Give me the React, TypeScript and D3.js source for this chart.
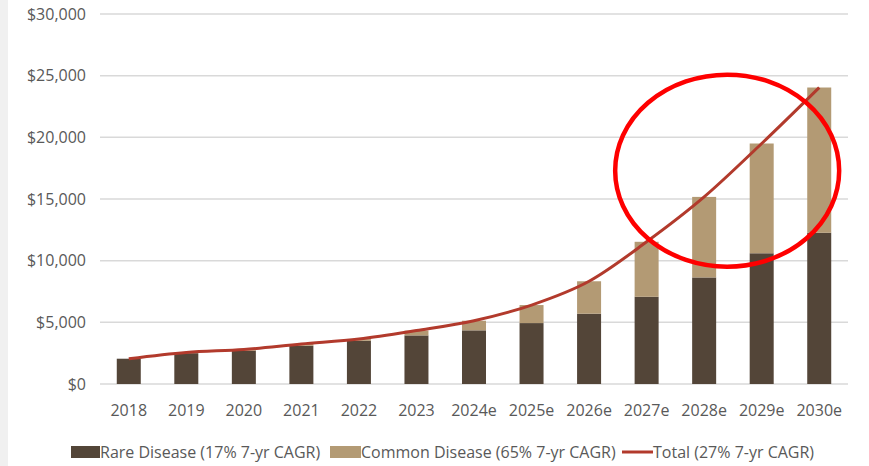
import React from "react";
import * as d3 from "d3";

const categories = ["2018", "2019", "2020", "2021", "2022", "2023", "2024e", "2025e", "2026e", "2027e", "2028e", "2029e", "2030e"];
const rareDisease = [2050, 2500, 2700, 3100, 3500, 3940, 4350, 4940, 5700, 7070, 8640, 10600, 12260];
const commonDisease = [0, 60, 100, 140, 140, 390, 780, 1460, 2630, 4460, 6530, 8900, 11780];
const yTicks = [0, 5000, 10000, 15000, 20000, 25000, 30000];
const legendLabels = ["Rare Disease (17% 7-yr CAGR)", "Common Disease (65% 7-yr CAGR)", "Total (27% 7-yr CAGR)"];
// annotation ellipse: centred between 2028e and 2029e, around $17,300
const highlight = { from: "2028e", to: "2029e", frac: 0.4, value: 17300 };

const W = 869;
const H = 466;
const FONT = "'Open Sans', sans-serif";
const TEXT = "#595959";
const RARE = "#534538";
const COMMON = "#b39a74";
const LINE = "#b23a2c";

export default function App() {
  const left = 100, right = 848, top = 14, bottom = 384;
  const x = d3.scaleBand<string>().domain(categories).range([left, right]).padding(0);
  const y = d3.scaleLinear().domain([0, 30000]).range([bottom, top]);
  const bw = 24;
  const cx = (c: string) => (x(c) as number) + x.bandwidth() / 2;
  const totals = rareDisease.map((r, i) => r + commonDisease[i]);
  const line = d3
    .line<number>()
    .x((_, i) => cx(categories[i]))
    .y((d) => y(d))
    .curve(d3.curveMonotoneX);
  const fmt = (v: number) => "$" + d3.format(",")(v);

  const ex = cx(highlight.from) + (cx(highlight.to) - cx(highlight.from)) * highlight.frac;
  const ey = y(highlight.value);

  const legY = 452;
  return (
    <svg width={W} height={H} style={{ position: "absolute", left: 0, top: 0, background: "#fff" }}>
      <rect x={0} y={0} width={8} height={H} fill="#f0f0f0" />
      {yTicks.map((t) => (
        <g key={t}>
          <line x1={left} x2={right} y1={y(t)} y2={y(t)} stroke="#d9d9d9" strokeWidth={1.5} />
          <text x={86} y={y(t)} dy="0.35em" textAnchor="end" fontFamily={FONT} fontSize={16} fill={TEXT}>
            {fmt(t)}
          </text>
        </g>
      ))}
      {categories.map((c, i) => (
        <g key={c}>
          <rect x={cx(c) - bw / 2} y={y(rareDisease[i])} width={bw} height={y(0) - y(rareDisease[i])} fill={RARE} />
          {commonDisease[i] > 0 && (
            <rect
              x={cx(c) - bw / 2}
              y={y(totals[i])}
              width={bw}
              height={y(rareDisease[i]) - y(totals[i])}
              fill={COMMON}
            />
          )}
          <text x={cx(c)} y={410} dy="0.35em" textAnchor="middle" fontFamily={FONT} fontSize={16} fill={TEXT}>
            {c}
          </text>
        </g>
      ))}
      <path d={line(totals) || ""} fill="none" stroke={LINE} strokeWidth={3} />
      <ellipse cx={ex} cy={ey} rx={112} ry={96} fill="none" stroke="#fe0000" strokeWidth={4.5} />
      <g fontFamily={FONT} fontSize={16} fill={TEXT}>
        <rect x={71} y={legY - 6} width={29} height={12} fill={RARE} />
        <text x={100} y={legY} dy="0.35em">{legendLabels[0]}</text>
        <rect x={330} y={legY - 6} width={31} height={12} fill={COMMON} />
        <text x={361} y={legY} dy="0.35em">{legendLabels[1]}</text>
        <line x1={622} x2={653} y1={legY} y2={legY} stroke={LINE} strokeWidth={3} />
        <text x={653} y={legY} dy="0.35em">{legendLabels[2]}</text>
      </g>
    </svg>
  );
}
